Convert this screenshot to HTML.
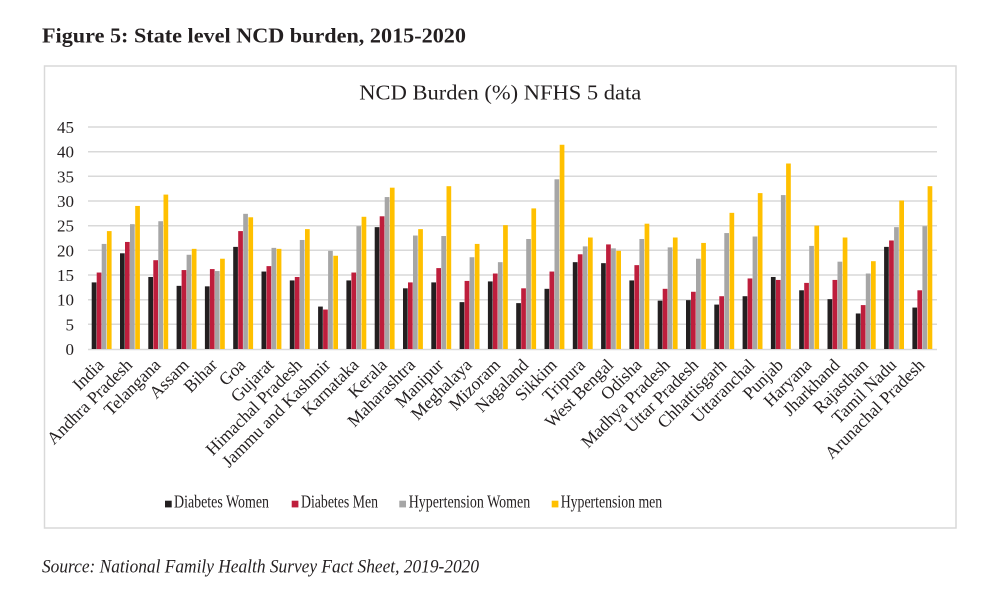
<!DOCTYPE html>
<html><head><meta charset="utf-8"><style>
html,body{margin:0;padding:0;background:#fff;}
svg{display:block;}
.b0{fill:#231f20}.b1{fill:#be1e3c}.b2{fill:#a6a6a6}.b3{fill:#ffc000}
.lab{font-family:"Liberation Serif",serif;font-size:17.5px;fill:#231f20;text-anchor:end;}
.tick{font-family:"Liberation Serif",serif;font-size:17px;fill:#231f20;text-anchor:end;}
</style></head><body>
<svg width="1000" height="603" viewBox="0 0 1000 603" xmlns="http://www.w3.org/2000/svg">
<rect width="1000" height="603" fill="#fff"/>
<text x="42" y="42.3" font-family="Liberation Serif,serif" font-weight="bold" font-size="21.5" fill="#231f20" textLength="424" lengthAdjust="spacingAndGlyphs">Figure 5: State level NCD burden, 2015-2020</text>
<rect x="44.5" y="66" width="911.5" height="462" fill="#fff" stroke="#d9d9d9" stroke-width="1.5"/>
<text x="359.3" y="99.3" font-family="Liberation Serif,serif" font-size="21.5" fill="#231f20" textLength="282" lengthAdjust="spacingAndGlyphs">NCD Burden (%) NFHS 5 data</text>
<g stroke="#d9d9d9" stroke-width="1.5">
<line x1="88" x2="937" y1="127" y2="127"/>
<line x1="88" x2="937" y1="151.7" y2="151.7"/>
<line x1="88" x2="937" y1="176.3" y2="176.3"/>
<line x1="88" x2="937" y1="201" y2="201"/>
<line x1="88" x2="937" y1="225.7" y2="225.7"/>
<line x1="88" x2="937" y1="250.3" y2="250.3"/>
<line x1="88" x2="937" y1="275" y2="275"/>
<line x1="88" x2="937" y1="299.7" y2="299.7"/>
<line x1="88" x2="937" y1="324.3" y2="324.3"/>
<line x1="88" x2="937" y1="349.5" y2="349.5"/>
</g>
<g class="tick">
<text x="74" y="133">45</text>
<text x="74" y="157.7">40</text>
<text x="74" y="182.3">35</text>
<text x="74" y="207">30</text>
<text x="74" y="231.7">25</text>
<text x="74" y="256.3">20</text>
<text x="74" y="281">15</text>
<text x="74" y="305.7">10</text>
<text x="74" y="330.3">5</text>
<text x="74" y="355">0</text>
</g>
<g transform="translate(0,349) scale(1,-4.9333)">
<g transform="translate(91.7,0)"><rect class="b0" x="0" width="4.7" height="13.5"/><rect class="b1" x="5" width="4.7" height="15.5"/><rect class="b2" x="10" width="4.7" height="21.3"/><rect class="b3" x="15.2" width="4.7" height="23.9"/></g>
<g transform="translate(120,0)"><rect class="b0" x="0" width="4.7" height="19.4"/><rect class="b1" x="5" width="4.7" height="21.7"/><rect class="b2" x="10" width="4.7" height="25.3"/><rect class="b3" x="15.2" width="4.7" height="29.0"/></g>
<g transform="translate(148.3,0)"><rect class="b0" x="0" width="4.7" height="14.6"/><rect class="b1" x="5" width="4.7" height="18.0"/><rect class="b2" x="10" width="4.7" height="25.9"/><rect class="b3" x="15.2" width="4.7" height="31.3"/></g>
<g transform="translate(176.6,0)"><rect class="b0" x="0" width="4.7" height="12.8"/><rect class="b1" x="5" width="4.7" height="16.0"/><rect class="b2" x="10" width="4.7" height="19.1"/><rect class="b3" x="15.2" width="4.7" height="20.3"/></g>
<g transform="translate(204.9,0)"><rect class="b0" x="0" width="4.7" height="12.7"/><rect class="b1" x="5" width="4.7" height="16.2"/><rect class="b2" x="10" width="4.7" height="15.8"/><rect class="b3" x="15.2" width="4.7" height="18.3"/></g>
<g transform="translate(233.2,0)"><rect class="b0" x="0" width="4.7" height="20.7"/><rect class="b1" x="5" width="4.7" height="23.9"/><rect class="b2" x="10" width="4.7" height="27.4"/><rect class="b3" x="15.2" width="4.7" height="26.7"/></g>
<g transform="translate(261.5,0)"><rect class="b0" x="0" width="4.7" height="15.7"/><rect class="b1" x="5" width="4.7" height="16.8"/><rect class="b2" x="10" width="4.7" height="20.5"/><rect class="b3" x="15.2" width="4.7" height="20.3"/></g>
<g transform="translate(289.8,0)"><rect class="b0" x="0" width="4.7" height="13.9"/><rect class="b1" x="5" width="4.7" height="14.6"/><rect class="b2" x="10" width="4.7" height="22.1"/><rect class="b3" x="15.2" width="4.7" height="24.3"/></g>
<g transform="translate(318.1,0)"><rect class="b0" x="0" width="4.7" height="8.6"/><rect class="b1" x="5" width="4.7" height="8.0"/><rect class="b2" x="10" width="4.7" height="19.9"/><rect class="b3" x="15.2" width="4.7" height="18.9"/></g>
<g transform="translate(346.4,0)"><rect class="b0" x="0" width="4.7" height="13.9"/><rect class="b1" x="5" width="4.7" height="15.5"/><rect class="b2" x="10" width="4.7" height="24.9"/><rect class="b3" x="15.2" width="4.7" height="26.8"/></g>
<g transform="translate(374.7,0)"><rect class="b0" x="0" width="4.7" height="24.7"/><rect class="b1" x="5" width="4.7" height="26.9"/><rect class="b2" x="10" width="4.7" height="30.8"/><rect class="b3" x="15.2" width="4.7" height="32.7"/></g>
<g transform="translate(403,0)"><rect class="b0" x="0" width="4.7" height="12.3"/><rect class="b1" x="5" width="4.7" height="13.5"/><rect class="b2" x="10" width="4.7" height="23.0"/><rect class="b3" x="15.2" width="4.7" height="24.3"/></g>
<g transform="translate(431.3,0)"><rect class="b0" x="0" width="4.7" height="13.5"/><rect class="b1" x="5" width="4.7" height="16.4"/><rect class="b2" x="10" width="4.7" height="22.9"/><rect class="b3" x="15.2" width="4.7" height="33.0"/></g>
<g transform="translate(459.6,0)"><rect class="b0" x="0" width="4.7" height="9.5"/><rect class="b1" x="5" width="4.7" height="13.8"/><rect class="b2" x="10" width="4.7" height="18.6"/><rect class="b3" x="15.2" width="4.7" height="21.3"/></g>
<g transform="translate(487.9,0)"><rect class="b0" x="0" width="4.7" height="13.7"/><rect class="b1" x="5" width="4.7" height="15.3"/><rect class="b2" x="10" width="4.7" height="17.6"/><rect class="b3" x="15.2" width="4.7" height="25.1"/></g>
<g transform="translate(516.2,0)"><rect class="b0" x="0" width="4.7" height="9.3"/><rect class="b1" x="5" width="4.7" height="12.3"/><rect class="b2" x="10" width="4.7" height="22.3"/><rect class="b3" x="15.2" width="4.7" height="28.5"/></g>
<g transform="translate(544.5,0)"><rect class="b0" x="0" width="4.7" height="12.2"/><rect class="b1" x="5" width="4.7" height="15.7"/><rect class="b2" x="10" width="4.7" height="34.4"/><rect class="b3" x="15.2" width="4.7" height="41.4"/></g>
<g transform="translate(572.8,0)"><rect class="b0" x="0" width="4.7" height="17.6"/><rect class="b1" x="5" width="4.7" height="19.2"/><rect class="b2" x="10" width="4.7" height="20.8"/><rect class="b3" x="15.2" width="4.7" height="22.6"/></g>
<g transform="translate(601.1,0)"><rect class="b0" x="0" width="4.7" height="17.4"/><rect class="b1" x="5" width="4.7" height="21.2"/><rect class="b2" x="10" width="4.7" height="20.4"/><rect class="b3" x="15.2" width="4.7" height="19.9"/></g>
<g transform="translate(629.4,0)"><rect class="b0" x="0" width="4.7" height="13.9"/><rect class="b1" x="5" width="4.7" height="17.0"/><rect class="b2" x="10" width="4.7" height="22.3"/><rect class="b3" x="15.2" width="4.7" height="25.4"/></g>
<g transform="translate(657.7,0)"><rect class="b0" x="0" width="4.7" height="9.8"/><rect class="b1" x="5" width="4.7" height="12.2"/><rect class="b2" x="10" width="4.7" height="20.6"/><rect class="b3" x="15.2" width="4.7" height="22.6"/></g>
<g transform="translate(686,0)"><rect class="b0" x="0" width="4.7" height="9.9"/><rect class="b1" x="5" width="4.7" height="11.6"/><rect class="b2" x="10" width="4.7" height="18.3"/><rect class="b3" x="15.2" width="4.7" height="21.5"/></g>
<g transform="translate(714.3,0)"><rect class="b0" x="0" width="4.7" height="9.0"/><rect class="b1" x="5" width="4.7" height="10.7"/><rect class="b2" x="10" width="4.7" height="23.5"/><rect class="b3" x="15.2" width="4.7" height="27.6"/></g>
<g transform="translate(742.6,0)"><rect class="b0" x="0" width="4.7" height="10.7"/><rect class="b1" x="5" width="4.7" height="14.3"/><rect class="b2" x="10" width="4.7" height="22.8"/><rect class="b3" x="15.2" width="4.7" height="31.6"/></g>
<g transform="translate(770.9,0)"><rect class="b0" x="0" width="4.7" height="14.6"/><rect class="b1" x="5" width="4.7" height="14.0"/><rect class="b2" x="10" width="4.7" height="31.2"/><rect class="b3" x="15.2" width="4.7" height="37.6"/></g>
<g transform="translate(799.2,0)"><rect class="b0" x="0" width="4.7" height="11.9"/><rect class="b1" x="5" width="4.7" height="13.4"/><rect class="b2" x="10" width="4.7" height="20.9"/><rect class="b3" x="15.2" width="4.7" height="25.0"/></g>
<g transform="translate(827.5,0)"><rect class="b0" x="0" width="4.7" height="10.1"/><rect class="b1" x="5" width="4.7" height="14.0"/><rect class="b2" x="10" width="4.7" height="17.7"/><rect class="b3" x="15.2" width="4.7" height="22.6"/></g>
<g transform="translate(855.8,0)"><rect class="b0" x="0" width="4.7" height="7.2"/><rect class="b1" x="5" width="4.7" height="8.9"/><rect class="b2" x="10" width="4.7" height="15.3"/><rect class="b3" x="15.2" width="4.7" height="17.8"/></g>
<g transform="translate(884.1,0)"><rect class="b0" x="0" width="4.7" height="20.7"/><rect class="b1" x="5" width="4.7" height="22.0"/><rect class="b2" x="10" width="4.7" height="24.7"/><rect class="b3" x="15.2" width="4.7" height="30.1"/></g>
<g transform="translate(912.4,0)"><rect class="b0" x="0" width="4.7" height="8.4"/><rect class="b1" x="5" width="4.7" height="11.9"/><rect class="b2" x="10" width="4.7" height="24.9"/><rect class="b3" x="15.2" width="4.7" height="33.0"/></g>
</g>
<g class="lab">
<text transform="translate(105,366) rotate(-45)">India</text>
<text transform="translate(133.3,366) rotate(-45)">Andhra Pradesh</text>
<text transform="translate(161.6,366) rotate(-45)">Telangana</text>
<text transform="translate(189.9,366) rotate(-45)">Assam</text>
<text transform="translate(218.2,366) rotate(-45)">Bihar</text>
<text transform="translate(246.5,366) rotate(-45)">Goa</text>
<text transform="translate(274.8,366) rotate(-45)">Gujarat</text>
<text transform="translate(303.1,366) rotate(-45)">Himachal Pradesh</text>
<text transform="translate(331.4,366) rotate(-45)">Jammu and Kashmir</text>
<text transform="translate(359.7,366) rotate(-45)">Karnataka</text>
<text transform="translate(388,366) rotate(-45)">Kerala</text>
<text transform="translate(416.3,366) rotate(-45)">Maharashtra</text>
<text transform="translate(444.6,366) rotate(-45)">Manipur</text>
<text transform="translate(472.9,366) rotate(-45)">Meghalaya</text>
<text transform="translate(501.2,366) rotate(-45)">Mizoram</text>
<text transform="translate(529.5,366) rotate(-45)">Nagaland</text>
<text transform="translate(557.8,366) rotate(-45)">Sikkim</text>
<text transform="translate(586.1,366) rotate(-45)">Tripura</text>
<text transform="translate(614.4,366) rotate(-45)">West Bengal</text>
<text transform="translate(642.7,366) rotate(-45)">Odisha</text>
<text transform="translate(671,366) rotate(-45)">Madhya Pradesh</text>
<text transform="translate(699.3,366) rotate(-45)">Uttar Pradesh</text>
<text transform="translate(727.6,366) rotate(-45)">Chhattisgarh</text>
<text transform="translate(755.9,366) rotate(-45)">Uttaranchal</text>
<text transform="translate(784.2,366) rotate(-45)">Punjab</text>
<text transform="translate(812.5,366) rotate(-45)">Haryana</text>
<text transform="translate(840.8,366) rotate(-45)">Jharkhand</text>
<text transform="translate(869.1,366) rotate(-45)">Rajasthan</text>
<text transform="translate(897.4,366) rotate(-45)">Tamil Nadu</text>
<text transform="translate(925.7,366) rotate(-45)">Arunachal Pradesh</text>
</g>
<g font-family="Liberation Serif,serif" font-size="17.5" fill="#231f20">
<rect class="b0" x="165" y="500.7" width="6.7" height="6.7"/>
<text x="174" y="507.5" textLength="95" lengthAdjust="spacingAndGlyphs">Diabetes Women</text>
<rect class="b1" x="291.7" y="500.7" width="6.7" height="6.7"/>
<text x="301" y="507.5" textLength="77" lengthAdjust="spacingAndGlyphs">Diabetes Men</text>
<rect class="b2" x="399.3" y="500.7" width="6.7" height="6.7"/>
<text x="408.7" y="507.5" textLength="121.5" lengthAdjust="spacingAndGlyphs">Hypertension Women</text>
<rect class="b3" x="551.7" y="500.7" width="6.7" height="6.7"/>
<text x="560.7" y="507.5" textLength="101.5" lengthAdjust="spacingAndGlyphs">Hypertension men</text>
</g>
<text x="42" y="572.3" font-family="Liberation Serif,serif" font-style="italic" font-size="19" fill="#231f20" textLength="437" lengthAdjust="spacingAndGlyphs">Source: National Family Health Survey Fact Sheet, 2019-2020</text>
</svg>
</body></html>
